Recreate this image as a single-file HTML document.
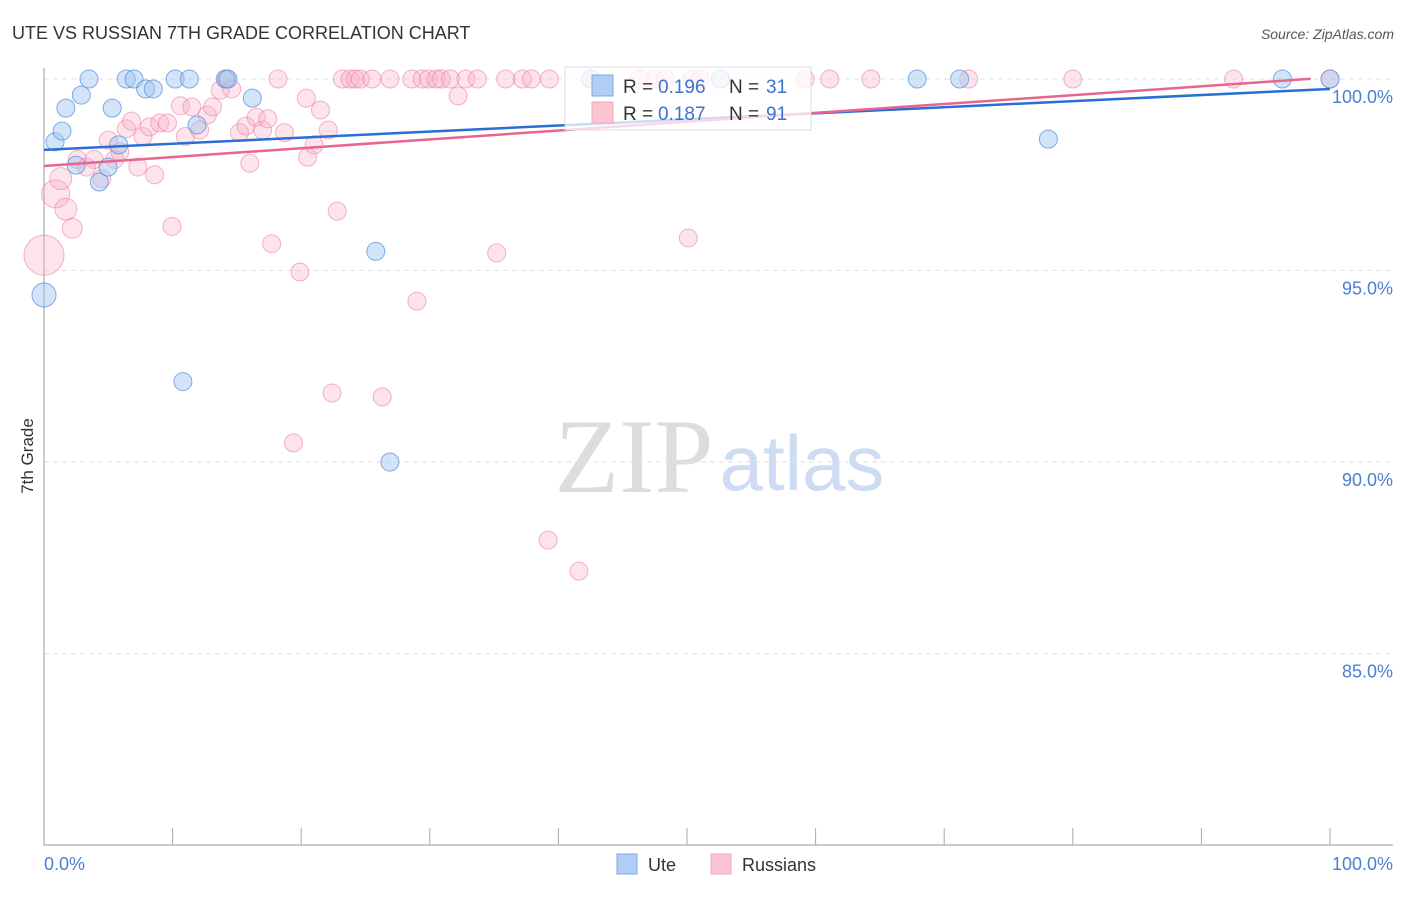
<!DOCTYPE html>
<html><head><meta charset="utf-8"><style>
body{margin:0;background:#fff;font-family:"Liberation Sans",sans-serif}
</style></head><body>
<svg width="1406" height="892" xmlns="http://www.w3.org/2000/svg">
<text x="12" y="39" font-size="18" fill="#333">UTE VS RUSSIAN 7TH GRADE CORRELATION CHART</text>
<text x="1394" y="39" font-size="14" fill="#555" font-style="italic" text-anchor="end">Source: ZipAtlas.com</text>
<g><text x="634" y="492" font-size="106" font-family="Liberation Serif" fill="#ddd" text-anchor="middle">ZIP</text><text x="802" y="490" font-size="78" fill="#cddcf2" text-anchor="middle">atlas</text></g>
<g id="grid"></g><g id="axes"></g><g id="pts"></g><g id="trend"></g>
<text transform="translate(33,456) rotate(-90)" font-size="17" fill="#333" text-anchor="middle">7th Grade</text>
<g>
<rect x="565" y="67" width="246" height="63" fill="rgba(255,255,255,0.75)" stroke="#ddd"/>
<rect x="592" y="75" width="21" height="21" fill="#b0cdf5" stroke="#7aa8e6"/>
<rect x="592" y="102" width="21" height="21" fill="#fcc4d2" stroke="#f2a8bc"/>
<text x="623" y="93" font-size="19" fill="#333">R =</text><text x="658" y="93" font-size="19" fill="#3a72d0">0.196</text>
<text x="729" y="93" font-size="19" fill="#333">N =</text><text x="766" y="93" font-size="19" fill="#3a72d0">31</text>
<text x="623" y="120" font-size="19" fill="#333">R =</text><text x="658" y="120" font-size="19" fill="#3a72d0">0.187</text>
<text x="729" y="120" font-size="19" fill="#333">N =</text><text x="766" y="120" font-size="19" fill="#3a72d0">91</text>
</g>
<g>
<rect x="617" y="854" width="20" height="20" fill="#b0cdf5" stroke="#7aa8e6"/><text x="648" y="871" font-size="18" fill="#333">Ute</text>
<rect x="711" y="854" width="20" height="20" fill="#fcc4d2" stroke="#f2a8bc"/><text x="742" y="871" font-size="18" fill="#333">Russians</text>
</g>
</svg>
<script>
const ute=[[0,94.36,12],[0.86,98.36,9],[1.4,98.64,9],[1.7,99.24,9],[2.5,97.75,9],[2.9,99.58,9],[3.5,100,9],[4.3,97.31,9],[4.98,97.7,9],[5.3,99.24,9],[5.8,98.28,9],[6.4,100,9],[7.0,100,9],[7.9,99.74,9],[8.5,99.74,9],[10.2,100,9],[11.3,100,9],[10.8,92.1,9],[11.9,98.8,9],[14.1,100,9],[16.2,99.5,9],[25.8,95.5,9],[26.9,90,9],[42.5,100,9],[52.6,100,9],[67.9,100,9],[71.2,100,9],[78.1,98.43,9],[96.3,100,9],[100,100,9],[14.3,100,9]];
const rus=[[0,95.4,20],[0.9,97.0,14],[1.3,97.4,11],[1.7,96.6,11],[2.2,96.1,10],[2.6,97.9,9],[3.3,97.7,9],[3.9,97.9,9],[4.5,97.4,9],[5.0,98.4,9],[5.5,97.9,9],[5.9,98.1,9],[6.4,98.7,9],[6.8,98.9,9],[7.3,97.7,9],[7.7,98.5,9],[8.2,98.75,9],[8.6,97.5,9],[9.0,98.85,9],[9.6,98.85,9],[9.95,96.15,9],[10.6,99.3,9],[11.0,98.5,9],[11.5,99.27,9],[12.1,98.67,9],[12.7,99.06,9],[13.1,99.27,9],[13.7,99.71,9],[14.2,100,9],[14.6,99.74,9],[15.2,98.6,9],[15.7,98.77,9],[16.0,97.8,9],[16.5,99,9],[17.0,98.67,9],[17.4,98.96,9],[17.7,95.7,9],[18.2,100,9],[18.7,98.6,9],[19.4,90.5,9],[19.9,94.96,9],[20.4,99.5,9],[20.5,97.96,9],[21,98.28,9],[21.5,99.19,9],[22.1,98.67,9],[22.4,91.8,9],[22.8,96.55,9],[23.2,100,9],[23.8,100,9],[24.2,100,9],[24.6,100,9],[25.5,100,9],[26.3,91.7,9],[26.9,100,9],[28.6,100,9],[29.0,94.2,9],[29.4,100,9],[29.9,100,9],[30.5,100,9],[30.9,100,9],[31.6,100,9],[32.2,99.56,9],[32.8,100,9],[33.7,100,9],[35.2,95.46,9],[35.9,100,9],[37.2,100,9],[37.9,100,9],[39.2,87.96,9],[39.3,100,9],[41.6,87.15,9],[46.3,100,9],[47.5,100,9],[48.3,100,9],[50.1,95.85,9],[50.4,100,9],[51,100,9],[59.2,100,9],[61.1,100,9],[64.3,100,9],[71.9,100,9],[80,100,9],[92.5,100,9],[100,100,9]];
const uteTrend=[98.15,99.74];
const rusTrend=[97.73,100.04];
const yTicks=[100,95,90,85];
const xTicks=[0,10,20,30,40,50,60,70,80,90,100];
const X=v=>44+v*12.86, Y=v=>79+(100-v)*38.3;
const NS="http://www.w3.org/2000/svg";
function mk(p,t,a){const e=document.createElementNS(NS,t);for(const k in a)e.setAttribute(k,a[k]);document.getElementById(p).appendChild(e);return e;}
yTicks.forEach(t=>{const l=mk('grid','line',{x1:44,x2:1393,y1:Y(t),y2:Y(t),stroke:'#e2e2e2','stroke-dasharray':'5,4'});


const tx=mk('grid','text',{x:1393,y:Y(t)+24,'font-size':18,fill:'#4a80d0','text-anchor':'end'});tx.textContent=t.toFixed(1)+'%';

});
const ax=mk('axes','path',{d:'M44 68V845H1393',stroke:'#999',fill:'none'});


xTicks.forEach(t=>{if(t>0){const l=mk('axes','line',{x1:X(t),x2:X(t),y1:828,y2:845,stroke:'#aaa'});

}});
[[0,'start'],[100,'end']].forEach(([t,a])=>{const tx=mk('axes','text',{x:t?1393:44,y:870,'font-size':18,fill:'#4a80d0','text-anchor':a});tx.textContent=t.toFixed(1)+'%';

});
rus.forEach(d=>{const c=mk('pts','circle',{cx:X(d[0]),cy:Y(d[1]),r:d[2],fill:'rgba(248,176,198,0.35)',stroke:'rgba(236,130,162,0.6)'});

});
ute.forEach(d=>{const c=mk('pts','circle',{cx:X(d[0]),cy:Y(d[1]),r:d[2],fill:'rgba(160,196,240,0.45)',stroke:'rgba(80,140,220,0.7)'});

});
const t1=mk('trend','line',{x1:X(0),y1:Y(uteTrend[0]),x2:X(100),y2:Y(uteTrend[1]),stroke:'#2a6fd6','stroke-width':2.5});


const t2=mk('trend','line',{x1:X(0),y1:Y(rusTrend[0]),x2:X(98.5),y2:Y(rusTrend[0]+(rusTrend[1]-rusTrend[0])*0.985),stroke:'#e8658f','stroke-width':2.5});


</script>
</body></html>
